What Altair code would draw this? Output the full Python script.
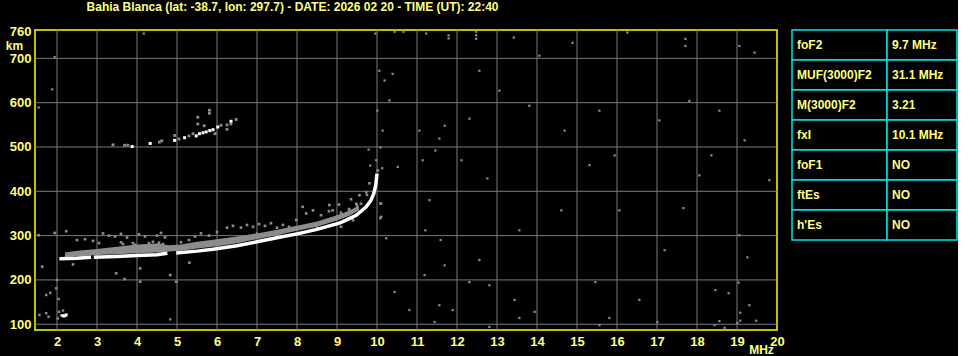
import altair as alt
import pandas as pd

TITLE = "Bahia Blanca (lat: -38.7, lon: 297.7) - DATE: 2026 02 20 - TIME (UT): 22:40"

freq_ticks = list(range(2, 21))
height_ticks = [100, 200, 300, 400, 500, 600, 700, 760]
grid_freq = list(range(2, 20))
grid_height = [100, 200, 300, 400, 500, 600, 700]

# main O-mode trace (white), split where the echo has gaps
trace_seg = [1, 1, 1, 2, 2, 2, 2, 2, 3, 3, 3, 3, 3, 3, 3, 3, 3, 3, 3, 3, 3, 3, 3, 3, 3]
trace_freq = [2.06, 2.5, 2.85, 2.92, 3.5, 4.0, 4.5, 4.76, 4.98, 5.5, 5.9, 6.5, 7.0, 7.5,
              8.06, 8.5, 8.81, 9.06, 9.23, 9.48, 9.73, 9.85, 9.92, 9.97, 10.0]
trace_height = [248, 249, 251, 251, 253, 255, 257, 260, 261, 265, 269, 277, 286, 295,
                305, 314, 322, 328, 335, 346, 365, 380, 395, 415, 440]

# grey spread band just above the trace
band_freq = [2.2, 2.5, 3.0, 3.5, 4.0, 4.5, 4.8, 5.1, 5.5, 6.0, 6.5, 7.0, 7.5, 8.0, 8.5, 9.0, 9.3, 9.55]
band_low = [252, 253, 256, 258, 260, 262, 264, 266, 271, 276, 283, 292, 301, 311, 320, 334, 344, 357]
band_high = [262, 266, 270, 275, 280, 282, 278, 280, 286, 292, 298, 305, 313, 322, 332, 346, 356, 368]

# scattered grey echoes near the traces
echo_freq = [3.15, 3.3, 3.45, 3.6, 3.75, 4.05, 4.2, 4.5, 4.6, 4.7, 2.5, 2.7, 2.9, 3.05,
             6.25, 6.4, 6.6, 6.75, 6.9, 7.05, 7.2, 7.35, 7.5, 7.65, 7.8, 7.9, 8.1, 8.25,
             8.5, 8.7, 8.85, 9.0, 9.1, 9.2, 9.3, 9.4, 9.5, 9.6, 5.6, 5.8, 6.0, 5.45, 8.05,
             7.6, 7.0, 6.6, 8.35, 8.6, 8.8, 9.05, 9.35, 9.75, 9.1, 9.4, 5.3, 5.1,
             9.31, 9.48, 9.56, 9.73, 9.81, 10.02, 10.1, 10.1, 8.81, 8.89, 8.23, 8.4, 8.14, 7.98,
             2.4, 3.48, 3.69, 4.08, 4.08, 4.83, 4.98, 5.31, 1.54, 1.94, 2.23, 1.63,
             4.3, 4.4, 4.55, 4.65, 3.9, 3.95, 3.6, 3.65]
echo_height = [305, 300, 298, 304, 296, 303, 298, 300, 306, 296, 290, 292, 288, 283,
               318, 322, 318, 324, 320, 326, 322, 328, 318, 324, 320, 314, 318, 322,
               318, 330, 335, 342, 352, 345, 360, 355, 368, 372, 305, 300, 308, 298, 306,
               306, 304, 296, 312, 346, 355, 370, 382, 392, 320, 335, 290, 285,
               357, 372, 391, 398, 418, 447, 372, 342, 369, 357, 350, 357, 365, 335,
               235, 215, 202, 226, 196, 211, 196, 239, 301, 306, 310, 230,
               283, 286, 284, 281, 283, 279, 285, 281]

# second-hop trace
hop_white_freq = [3.88, 4.33, 4.94, 5.19, 5.48, 5.56, 5.65, 5.73, 5.82, 5.9, 6.02, 6.35]
hop_white_height = [501, 508, 515, 521, 525, 530, 532, 534, 537, 539, 545, 558]
hop_grey_freq = [3.4, 3.69, 3.77, 4.56, 4.62, 4.94, 5.05, 5.3, 5.52, 5.52, 5.81, 5.81,
                 6.1, 6.25, 6.35, 6.48, 6.25, 5.95, 5.68, 5.4]
hop_grey_height = [505, 504, 504, 511, 514, 526, 518, 525, 567, 552, 583, 576,
                   549, 550, 552, 562, 540, 530, 548, 530]

# low echo blob near 2 MHz
low_white_freq = [2.15, 2.19, 2.23]
low_white_height = [119, 119, 121]
low_grey_freq = [2.15, 2.1, 2.05, 2.0, 1.98, 1.83, 1.73, 2.04, 1.56, 1.73, 1.79, 2.02]
low_grey_height = [131, 120, 128, 200, 181, 171, 166, 157, 121, 125, 117, 113]

# background noise dots
noise_freq = [11.06, 11.14, 11.46, 11.56, 11.69, 12.31, 12.11, 12.76, 11.31, 11.21, 11.69,
              11.59, 12.31, 12.81, 11.89, 12.56, 13.56, 13.44, 13.94, 14.61, 15.31, 15.46,
              15.94, 16.06, 16.56, 17.19, 17.66, 17.01, 18.06, 18.36, 18.46, 18.56, 19.06,
              19.26, 19.31, 19.81, 15.81, 19.01, 15.56, 14.69, 13.81, 12.56, 13.06, 14.06,
              17.06, 17.81, 18.56, 19.19, 10.44, 10.81, 11.19, 11.56,
              4.17, 9.96, 10.44, 10.66, 11.23, 11.79, 11.79, 12.48, 12.48, 12.48, 13.42,
              14.89, 16.26, 17.71, 17.71, 19.06, 19.44,
              10.06, 10.19, 10.39, 10.01, 10.31, 10.14, 10.09, 9.79, 9.83, 9.98, 10.13,
              10.52, 10.08, 10.08, 10.23, 1.94, 1.88, 1.54,
              11.44, 12.81, 13.56, 15.56, 19.04, 18.79, 19.08, 19.08, 19.48, 18.44, 18.69, 4.83]
noise_height = [537, 470, 492, 519, 548, 564, 470, 429, 380, 312, 233,
                290, 195, 188, 132, 245, 312, 155, 128, 357, 459, 195,
                481, 357, 155, 267, 362, 105, 436, 481, 177, 107, 301,
                251, 143, 425, 114, 103, 582, 537, 593, 672, 627, 706,
                560, 604, 582, 515, 173, 132, 211, 143,
                756, 756, 760, 760, 756, 752, 745, 760, 752, 744, 747,
                735, 758, 744, 728, 728, 713,
                672, 650, 665, 582, 605, 537, 499, 494, 458, 470, 452,
                455, 373, 339, 294, 703, 630, 589,
                105, 94, 114, 98, 194, 170, 126, 108, 108, 98, 92, 111]

param_names = ["foF2", "MUF(3000)F2", "M(3000)F2", "fxI", "foF1", "ftEs", "h'Es"]
param_values = ["9.7 MHz", "31.1 MHz", "3.21", "10.1 MHz", "NO", "NO", "NO"]

TXT = "#ffff80"
FONT = "Liberation Sans"
GRID = "#7a7a7a"
GREY = "#8c8c8c"

xscale = alt.Scale(domain=[1.45, 20], nice=False, zero=False)
yscale = alt.Scale(domain=[87, 764], nice=False, zero=False)
xaxis = alt.Axis(values=freq_ticks, grid=False, ticks=False, domain=False, labelFlush=False,
                 labelColor=TXT, labelFont=FONT, labelFontSize=13, labelFontWeight="bold",
                 labelPadding=5, title="MHz", titleColor=TXT, titleFont=FONT, titleFontSize=12,
                 titleFontWeight="bold", titleX=726, titleY=19, titleAlign="center",
                 titleBaseline="middle")
yaxis = alt.Axis(values=height_ticks, grid=False, ticks=False, domain=False,
                 labelColor=TXT, labelFont=FONT, labelFontSize=13, labelFontWeight="bold",
                 labelPadding=4, title="km", titleColor=TXT, titleFont=FONT, titleFontSize=12,
                 titleFontWeight="bold", titleAngle=0, titleX=-21, titleY=15,
                 titleAlign="center", titleBaseline="middle")


def X(field):
    return alt.X(field, type="quantitative", scale=xscale, axis=xaxis)


def Y(field):
    return alt.Y(field, type="quantitative", scale=yscale, axis=yaxis)


grid_x = alt.Chart(pd.DataFrame({"f": grid_freq})).mark_rule(color=GRID, strokeWidth=1).encode(x=X("f"))
grid_y = alt.Chart(pd.DataFrame({"h": grid_height})).mark_rule(color=GRID, strokeWidth=1).encode(y=Y("h"))


def dots(fr, hs, color, size):
    return alt.Chart(pd.DataFrame({"f": fr, "h": hs})).mark_square(
        color=color, size=size, opacity=1, clip=True).encode(x=X("f"), y=Y("h"))


noise = dots(noise_freq, noise_height, GREY, 5)
echoes = dots(echo_freq, echo_height, GREY, 7)
band = alt.Chart(pd.DataFrame({"f": band_freq, "lo": band_low, "hi": band_high})).mark_area(
    color=GREY, opacity=1).encode(x=X("f"), y=Y("lo"), y2="hi")
trace = alt.Chart(pd.DataFrame({"s": trace_seg, "f": trace_freq, "h": trace_height})).mark_line(
    color="white", strokeWidth=3.5).encode(x=X("f"), y=Y("h"), detail="s:N")
hop_g = dots(hop_grey_freq, hop_grey_height, GREY, 8)
hop_w = dots(hop_white_freq, hop_white_height, "white", 9)
low_g = dots(low_grey_freq, low_grey_height, GREY, 6)
low_w = dots(low_white_freq, low_white_height, "white", 9)

main = alt.layer(grid_x, grid_y, noise, band, echoes, trace, hop_g, hop_w, low_g, low_w).properties(
    width=742, height=300,
    view=alt.ViewBackground(stroke="#ffff00", strokeWidth=1.5))

tdf = pd.DataFrame({"param": param_names, "value": param_values, "c1": "a", "c2": "b"})
ysc = alt.Y("param:N", sort=param_names, axis=None, scale=alt.Scale(paddingInner=0, paddingOuter=0))


def column(colfield, textfield, w):
    xs = alt.Scale(paddingInner=0, paddingOuter=0)
    rect = alt.Chart(tdf).mark_rect(fill="black", stroke="#00e5e5", strokeWidth=1.5).encode(
        x=alt.X(colfield + ":N", axis=None, scale=xs), y=ysc)
    txt = alt.Chart(tdf).mark_text(align="left", dx=5, color=TXT, font=FONT, fontSize=12,
                                   fontWeight="bold").encode(
        x=alt.X(colfield + ":N", axis=None, scale=xs, bandPosition=0), y=ysc, text=textfield + ":N")
    return alt.layer(rect, txt).properties(width=w, height=210,
                                           view=alt.ViewBackground(strokeOpacity=0))


table = alt.hconcat(column("c1", "param", 95), column("c2", "value", 70), spacing=0, bounds="flush")

chart = alt.hconcat(main, table, spacing=15, bounds="flush").properties(
    title=alt.TitleParams(TITLE, anchor="start", frame="bounds", dx=82, color=TXT, font=FONT,
                          fontSize=12, fontWeight="bold", offset=11),
    padding={"left": 4, "top": 1, "right": 0, "bottom": 0},
    background="black",
).configure_view(stroke=None)

chart.save("out.html", embed_options={"renderer": "svg", "actions": False})
